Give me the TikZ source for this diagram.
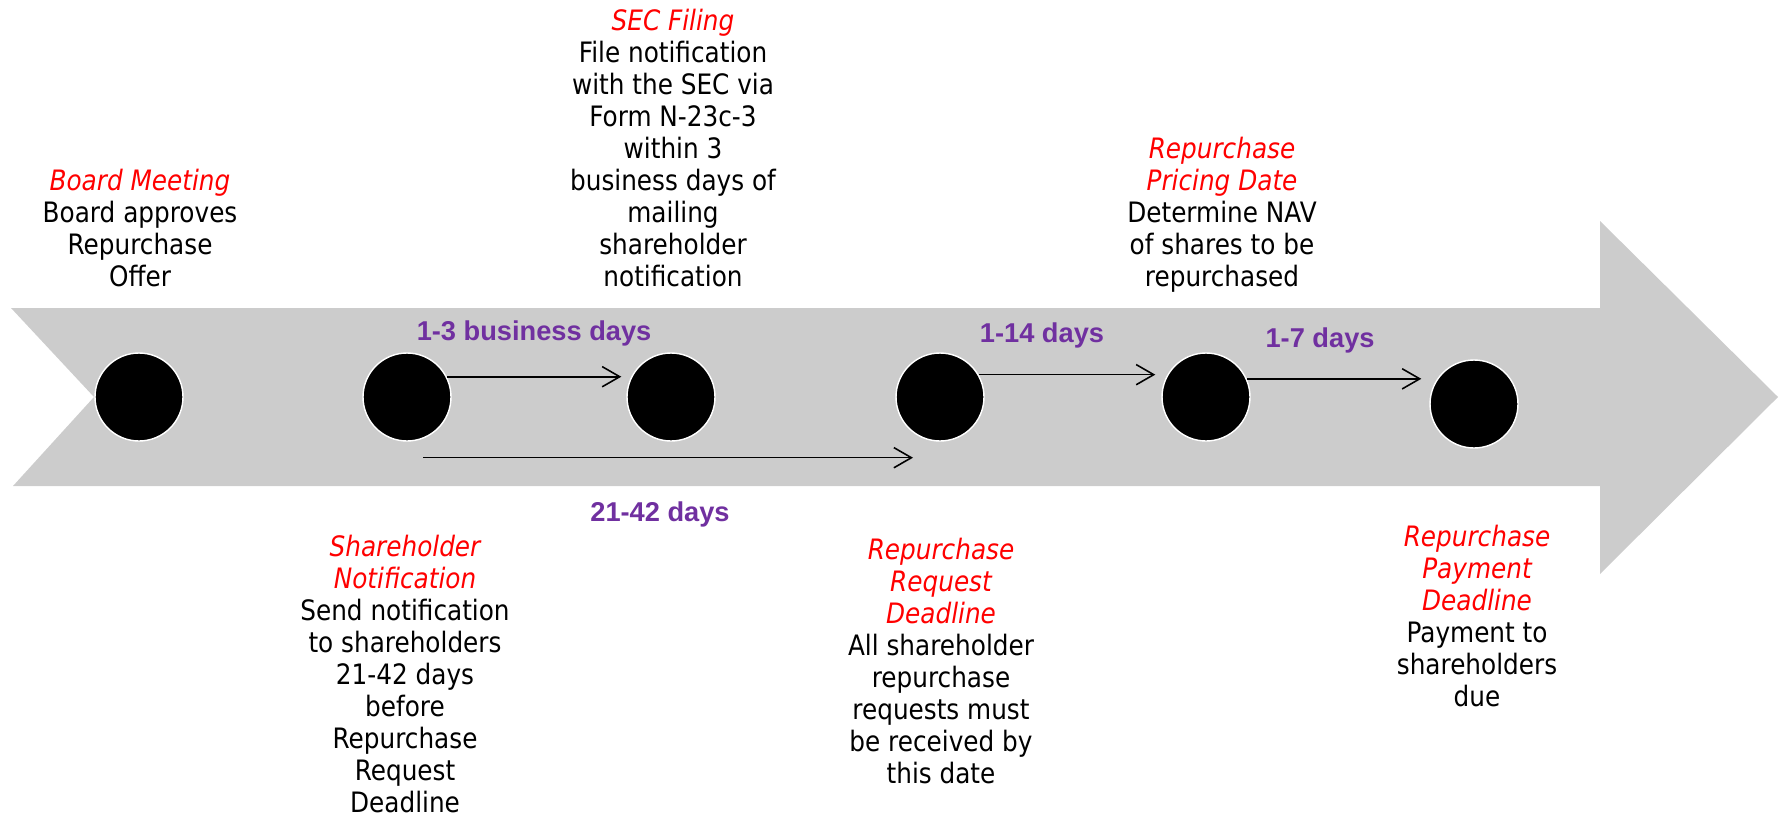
\documentclass[tikz,border=0pt]{standalone}
\usepackage{fontspec}
\setmainfont{DejaVu Sans}[FakeStretch=0.88]
\newfontfamily\lblfont{Liberation Sans}
\usetikzlibrary{arrows.meta}

\definecolor{bandgray}{HTML}{CCCCCC}
\definecolor{steppurple}{HTML}{7030A0}
\definecolor{stepred}{HTML}{FF0000}

\tikzset{
  dot/.style={circle, fill=black, draw=white, line width=0.8pt, minimum size=1.76cm, inner sep=0pt},
  txt/.style={align=center, inner sep=0pt, anchor=north, font=\fontsize{16}{18.2}\selectfont},
  lbl/.style={inner sep=0pt, text=steppurple, font=\lblfont\bfseries\fontsize{15.5}{18}\selectfont},
  tl/.style={line width=0.9pt, -{Straight Barb[length=10pt,width=11.5pt,line width=0.9pt]}}
}
\newcommand{\ttl}[1]{{\color{stepred}\itshape #1}}

\begin{document}
\begin{tikzpicture}[x=0.02cm, y=-0.02cm]
    \useasboundingbox (0,0) rectangle (1781,815);
    \fill [bandgray] (11,308) -- (1600,308) -- (1600,221) -- (1778,397) -- (1600,574)
        -- (1600,486) -- (13,486) -- (94,397) -- cycle;
    \node [dot] (c1) at (139,397) {};
    \node [dot] (c2) at (407,397) {};
    \node [dot] (c3) at (671,397) {};
    \node [dot] (c4) at (940,397) {};
    \node [dot] (c5) at (1206,397) {};
    \node [dot] (c6) at (1474,404) {};
    \node [txt] (board) at (140,169) {\ttl{Board Meeting}\\Board approves\\Repurchase\\Offer};
    \node [txt] (sec) at (673,9) {\ttl{SEC Filing}\\File notification\\with the SEC via\\Form N-23c-3\\within 3\\business days of\\mailing\\shareholder\\notification};
    \node [txt] (pricing) at (1222,137) {\ttl{Repurchase}\\\ttl{Pricing Date}\\Determine NAV\\of shares to be\\repurchased};
    \node [txt] (notice) at (405,535) {\ttl{Shareholder}\\\ttl{Notification}\\Send notification\\to shareholders\\21-42 days\\before\\Repurchase\\Request\\Deadline};
    \node [txt] (request) at (941,538) {\ttl{Repurchase}\\\ttl{Request}\\\ttl{Deadline}\\All shareholder\\repurchase\\requests must\\be received by\\this date};
    \node [txt] (payment) at (1477,525) {\ttl{Repurchase}\\\ttl{Payment}\\\ttl{Deadline}\\Payment to\\shareholders\\due};
    \coordinate (n21a) at ([shift={(16,16)}]c2.south);
    \coordinate (n21b) at ([shift={(-27,16)}]c4.south);
    \draw [tl] (c2.27) -- ([xshift=-0.1cm]c2.27 -| c3.west)
        node [lbl, midway, yshift=0.86cm] (d13) {1-3 business days};
    \draw [tl] (n21a) -- (n21b)
        node [lbl, midway, xshift=-0.16cm, yshift=-1.14cm] (d2142) {21-42 days};
    \draw [tl] (c4.30) -- ([xshift=-0.12cm]c4.30 -| c5.west)
        node [lbl, midway, xshift=-0.5cm, yshift=0.78cm] (d114) {1-14 days};
    \draw [tl] (c5.24) -- ([xshift=-0.16cm]c5.24 -| c6.west)
        node [lbl, midway, xshift=-0.28cm, yshift=0.76cm] (d17) {1-7 days};
\end{tikzpicture}
\end{document}
